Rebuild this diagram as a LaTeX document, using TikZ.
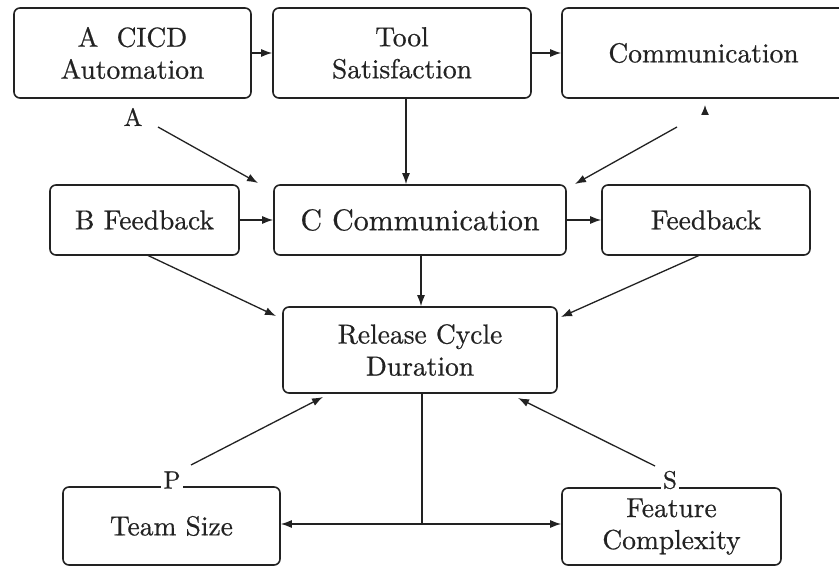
\documentclass[tikz,border=0pt]{standalone}
\usepackage{fontspec}
\setmainfont{lmroman10-regular.otf}[FakeBold=0.6]
\usetikzlibrary{arrows.meta}
\definecolor{linec}{HTML}{222222}
\begin{document}
\begin{tikzpicture}[x=1pt,y=-1pt,
  box/.style={draw=linec,line width=1.6pt,rounded corners=6pt,align=center,
    font=\fontsize{27.5}{32}\selectfont,inner sep=0pt,text=linec},
  arr/.style={draw=linec,line width=1.3pt,-{Latex[length=11pt,width=8pt]}},
  lab/.style={font=\fontsize{25}{25}\selectfont,text=linec,inner sep=2pt}]
\useasboundingbox (0,0) rectangle (839,567);
\clip (0,0) rectangle (839,567);
\fill[white] (0,0) rectangle (839,567);
% top row
\node[box,minimum width=237pt,minimum height=90pt] (A) at (132.5,53) {A\ \ CICD\\Automation};
\node[box,minimum width=258pt,minimum height=90pt] (T) at (402,53) {Tool\\Satisfaction};
\node[box,minimum width=283pt,minimum height=90pt] (CT) at (703.5,53) {Communication};
% middle row
\node[box,minimum width=189pt,minimum height=70pt] (B) at (144.5,220) {B Feedback};
\node[box,minimum width=292pt,minimum height=70pt,font=\fontsize{30}{34}\selectfont] (C) at (420,220) {C\ Communication};
\node[box,minimum width=208pt,minimum height=70pt] (F) at (706,220) {Feedback};
% release
\node[box,minimum width=274pt,minimum height=86pt] (R) at (420,350) {Release Cycle\\Duration};
% bottom
\node[box,minimum width=217pt,minimum height=78pt] (TS) at (171.5,526) {Team Size};
\node[box,minimum width=219pt,minimum height=77pt] (FC) at (671.5,526.5) {Feature\\Complexity};
% labels
\node[lab] (la) at (133,117) {A};
\node[lab,fill=white] (lp) at (172,480) {P};
\node[lab,fill=white] (ls) at (670,480) {S};
% coordinates
\coordinate (a1) at (158,127);
\coordinate (a2) at (258,183);
\coordinate (u1) at (705,115);
\coordinate (u2) at (705,105);
\coordinate (c1) at (677,127);
\coordinate (c2) at (575,184);
\coordinate (b1) at (147,255);
\coordinate (b2) at (276,316);
\coordinate (f1) at (700,255);
\coordinate (f2) at (561,317);
\coordinate (p1) at (191,465);
\coordinate (p2) at (323,397);
\coordinate (s1) at (655,466);
\coordinate (s2) at (518,398);
\coordinate (j) at (422,524);
% arrows
\draw[arr] (A.east) -- (T.west);
\draw[arr] (T.east) -- (CT.west);
\draw[arr] (a1) -- (a2);
\draw[arr] (T.south -| 406,0) -- (C.north -| 406,0);
\draw[arr,-{Latex[length=10pt,width=8pt]}] (u1) -- (u2);
\draw[arr] (c1) -- (c2);
\draw[arr] (B.east) -- (C.west);
\draw[arr] (C.east) -- (F.west);
\draw[arr] (C.south -| 421,0) -- (R.north -| 421,0);
\draw[arr] (b1) -- (b2);
\draw[arr] (f1) -- (f2);
\draw[arr] (p1) -- (p2);
\draw[arr] (s1) -- (s2);
\draw[draw=linec,line width=1.3pt] (R.south -| j) -- (j);
\draw[arr] (j) -- (TS.east |- j);
\draw[arr] (j) -- (FC.west |- j);
\end{tikzpicture}
\end{document}
